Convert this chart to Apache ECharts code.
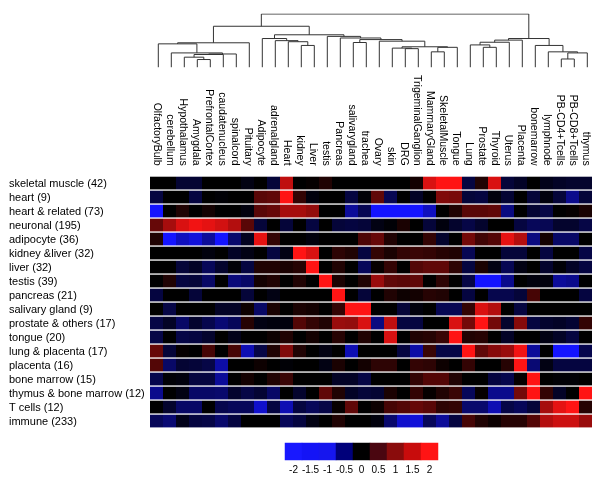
<!DOCTYPE html>
<html><head><meta charset="utf-8">
<script src="https://cdn.jsdelivr.net/npm/echarts@6/dist/echarts.min.js"></script>
<style>html,body{margin:0;padding:0;background:#fff}#c{width:600px;height:478px}</style>
</head><body><div id="c"></div>
<script>
// ---- categories ----
const tissues = ['OlfactoryBulb','cerebellum','Hypothalamus','Amygdala','PrefrontalCortex','caudatenucleus','spinalcord','Pituitary','Adipocyte','adrenalgland','Heart','kidney','Liver','testis','Pancreas','salivarygland','trachea','Ovary','skin','DRG','TrigeminalGanglion','MammaryGland','SkeletalMuscle','Tongue','Lung','Prostate','Thyroid','Uterus','Placenta','bonemarrow','lymphnode','PB-CD4+Tcells','PB-CD8+Tcells','thymus'];
const clusters = ['skeletal muscle (42)','heart (9)','heart & related (73)','neuronal (195)','adipocyte (36)','kidney &liver (32)','liver (32)','testis (39)','pancreas (21)','salivary gland (9)','prostate & others (17)','tongue (20)','lung & placenta (17)','placenta (16)','bone marrow (15)','thymus & bone marrow (12)','T cells (12)','immune (233)'];

// ---- z-score values (one row per cluster, one value per tissue) ----
const zScores = [
 [0,0,-0.4,-0.4,0,0,0,-0.15,0,-0.45, 1.5,0,0.05,0.25,0,0,0,0,0,0, 0.15,1.7,2,2,-0.5,0.25,1.7,-0.45,-0.3,0, -0.2,-0.3,-0.35,-0.35],
 [-0.5,0,0,-0.5,0,-0.05,0,0,0.7,0.75, 2,0.4,-0.1,0,0,-0.5,-0.05,0.75,-0.65,0, -0.3,0,1.0,0.95,-0.45,-0.5,-0.1,-0.4,0,-0.45, -0.1,-0.45,-1.1,-0.45],
 [-2,0,0.25,0,0.15,0,0,-0.1,0.7,0.8, 1.3,1.3,1.15,0,0,-1.2,-0.65,-2,-2,-2, -2,-1.5,0,0.25,0.7,0.7,0.75,-1.0,0,-0.4, -0.55,0,0.05,0.2],
 [0.8,1.3,1.7,1.9,1.8,1.65,1.4,0.7,-0.45,0, -0.45,0,-0.5,0,-0.45,-0.5,-0.45,-0.15,-0.05,0.2, 0,-0.45,-0.1,-0.35,-0.55,-0.35,0,0,-0.5,-0.7, -0.65,-0.35,-0.35,-0.55],
 [0.25,-2,-1.5,-1.7,-1.2,-2,-0.85,-0.25,1.8,0.4, 0,0,-0.1,0,0,0,0.6,0.8,0.25,0, 0,0.4,-0.35,0,0.9,0.5,0.65,1.8,1.4,-1.0, 0.15,-0.8,-0.8,0],
 [0,0,0,0,-0.1,0,-0.3,-0.15,0,-0.5, -0.15,2,1.7,0,0.35,0.25,-0.5,0.4,0.2,0.4, 0.45,0.4,0.3,0.25,-0.65,0,0,-0.45,-0.45,0, -0.5,0,0,-0.55],
 [0,0,-0.45,-0.3,-0.7,-0.35,-0.05,-0.5,0.25,0.25, 0.2,0.3,2,0,0.25,0,-0.7,0.05,0.4,0, 0.65,0.75,0.75,0.35,-0.5,0.2,-0.15,-0.65,-0.15,0, -0.35,-0.05,-0.3,-0.5],
 [0,0.25,-0.5,-0.45,-0.8,0,-0.95,-0.8,0.15,0.25, 0,0.25,0,2,0.2,0,0.25,1.2,0.75,0.7, 0.75,0,0.35,0,-0.55,-2,-2,-1.1,0,-0.1, -0.1,-1.2,-1.1,0],
 [-0.5,0,0,-0.45,0,0,0,-0.45,0,-0.15, 0,0,0,0,2,0,-0.45,0,0.25,0.1, 0.15,0.3,0.25,0,-0.5,0,-0.6,-0.6,-0.45,0.55, 0,0,0,-0.5],
 [0,-0.55,0,0,0,-0.3,-0.3,0.1,-0.8,0.2, 0,0.2,0.15,0,0.4,2,2,0,0,-0.45, -0.1,0,-0.65,-0.65,0.4,1.7,1.4,0,-0.5,0, 0,0,0,0],
 [-0.55,-0.3,-0.8,-0.35,-0.6,-0.9,-0.7,0.3,-0.15,-0.1, -0.1,0.65,0.4,0.25,1.2,1.15,1.7,-1.0,1.5,-0.5, -0.5,0,0,1.7,0.9,2,0.9,-0.35,1.05,-0.5, -0.35,-0.3,-0.4,0.4],
 [-0.55,0,-0.55,-0.5,-0.35,0,-0.2,0,0,0.1, 0.25,0,0.15,0,0.3,0,0.25,0,1.7,0, 0.25,0.3,0.45,2,0.25,0.3,0,-0.3,0,0, -0.15,-0.3,-0.5,0],
 [0.8,-0.45,0.05,0,0.55,0,0.55,-1.4,-0.55,0.25, 1.0,0.25,0,-0.15,0,-1.4,0,0,0,-0.5, -1.3,0.45,-0.55,-0.55,2,0.75,1.05,1.2,1.9,-1.2, 0,-2,-2,-0.6],
 [0.65,-0.8,-0.4,-0.45,-0.55,-1.3,0,0,0.1,0, -0.05,0,0,-0.15,0.2,0,0.15,0.35,0.35,0, 0.4,0.35,0.1,0,0.4,0,0,0.3,2,-0.9, -0.15,-0.5,-0.5,-0.5],
 [-0.6,-0.05,-0.1,-0.5,-0.5,-1.2,0,0.15,0,0.25, 0.45,0,0,0,-0.3,-0.3,-0.55,0,0,0, 0.4,0.65,0.65,0.25,0,0,-0.5,-0.6,0.05,2, 0,-0.05,-0.05,0],
 [-1.1,0,-0.15,-0.8,-0.8,-0.85,-0.35,-0.55,-0.4,-0.8, 0,-0.35,0,0.75,0.25,-0.3,-0.45,-0.4,0.2,0, 0.4,0.05,0.25,0.45,-0.7,0.05,-1.1,-1.1,0.9,2, 0.4,-0.3,0,2],
 [0,-0.35,-0.8,-0.8,0,-0.6,-0.7,-0.7,-1.6,-0.5, -1.4,-0.5,-0.7,-0.55,0.05,0.75,0,0.1,0.55,0.65, 0.8,0.7,0.35,0.4,-0.85,-0.85,-1.4,-0.55,-0.7,-0.45, 1.3,1.8,2,0.3],
 [-0.7,-0.9,-0.2,-0.5,-0.55,-0.85,-0.5,0,0,0, -0.7,-0.5,-0.15,0,0.25,0,0,-0.1,-0.85,-1.6, -1.7,-0.7,-1.2,-0.5,0.55,0.25,0.1,0.3,0.3,0.65, 1.4,1.6,1.6,1.2]
];

// ---- dendrogram (R-style merge table: negative = leaf number, positive = earlier merge) ----
const mergeLeft  = [-4, -3, 2, 3, -2, -1, 6, -12, -11, -10, -9, -22, 12, -20, -19, 15, -18, -16, 18, -15, -14, 11, 7, -26, -25, 25, 26, -32, 28, -31, -30, 27, 23];
const mergeRight = [-5, 1, -6, -7, 4, 5, -8, -13, 8, 9, 10, -23, -24, -21, 14, 13, 16, -17, 17, 19, 20, 21, 22, -27, 24, -28, -29, -33, -34, 29, 30, 31, 32];
const mergeHeight = [0.146, 0.19, 0.24, 0.25, 0.27, 0.44, 0.46, 0.41, 0.48, 0.50, 0.54, 0.29, 0.375, 0.35, 0.36, 0.385, 0.49, 0.465, 0.52, 0.55, 0.58, 0.61, 0.77, 0.375, 0.42, 0.47, 0.51, 0.156, 0.27, 0.29, 0.41, 0.54, 1.0];

// ---- colour key ----
const keyTicks = ['-2','-1.5','-1','-0.5','0','0.5','1','1.5','2'];
const keyValues = [-2, -1.5, -1, -0.5, 0, 0.5, 1, 1.5, 2];
const keyColors = ['#1818ff','#1414f6','#1616ee','#00007a','#000000','#4a0610','#8a0c0c','#c80c0c','#ff1414'];

const FONT = '"Liberation Sans", Arial, Helvetica, sans-serif';

// build cells
const cells = [];
zScores.forEach((row, r) => row.forEach((v, c) => cells.push([c, r, v])));

// build dendrogram segments
const nodeX = [], nodeH = [];
function pos(ref) {
  if (ref < 0) return [(-ref) - 0.5, 0];
  return [nodeX[ref - 1], nodeH[ref - 1]];
}
const segs = [];
for (let i = 0; i < mergeLeft.length; i++) {
  const a = pos(mergeLeft[i]), b = pos(mergeRight[i]), h = mergeHeight[i];
  nodeX.push((a[0] + b[0]) / 2); nodeH.push(h);
  segs.push({coords: [[a[0], a[1]], [a[0], h], [b[0], h], [b[0], b[1]]]});
}

function renderCell(params, api) {
  const p = api.coord([api.value(0), api.value(1)]);
  const s = api.size([1, 1]);
  const x0 = Math.round(p[0] - s[0] / 2), x1 = Math.round(p[0] + s[0] / 2);
  const y0 = p[1] - s[1] / 2;
  return {type: 'rect', shape: {x: x0, y: y0, width: x1 - x0, height: s[1] - 1.3},
          style: {fill: api.visual('color')}};
}

const chart = echarts.init(document.getElementById('c'), null, {renderer: 'canvas'});
chart.setOption({
  animation: false,
  backgroundColor: '#fff',
  textStyle: {fontFamily: FONT},
  grid: [
    {left: 150, top: 176.7, width: 442, height: 252},
    {left: 151.8, top: 14, width: 442, height: 53.3},
    {left: 285, top: 443, width: 153, height: 17}
  ],
  xAxis: [
    {type: 'category', gridIndex: 0, data: tissues, position: 'top',
     axisLine: {show: false}, axisTick: {show: false}, splitLine: {show: false},
     axisLabel: {rotate: 90, interval: 0, margin: 11, fontSize: 10.5, color: '#000', fontFamily: FONT}},
    {type: 'value', gridIndex: 1, min: 0, max: 34, show: false},
    {type: 'category', gridIndex: 2, data: keyTicks,
     axisLine: {show: false}, axisTick: {show: false},
     axisLabel: {margin: 5, fontSize: 10, color: '#000', interval: 0, fontFamily: FONT}}
  ],
  yAxis: [
    {type: 'category', gridIndex: 0, data: clusters, inverse: true,
     axisLine: {show: false}, axisTick: {show: false}, splitLine: {show: false},
     axisLabel: {align: 'left', margin: 141, fontSize: 11, color: '#000', interval: 0, fontFamily: FONT}},
    {type: 'value', gridIndex: 1, min: 0, max: 1, show: false},
    {type: 'category', gridIndex: 2, data: [''], show: false}
  ],
  visualMap: [
    {type: 'continuous', show: false, seriesIndex: 0, dimension: 2, min: -2, max: 2,
     inRange: {color: ['#1414ff', '#000000', '#ff1414']}},
    {type: 'piecewise', show: false, seriesIndex: 2, dimension: 2,
     pieces: keyValues.map((v, i) => ({value: v, color: keyColors[i]}))}
  ],
  series: [
    {type: 'custom', xAxisIndex: 0, yAxisIndex: 0, renderItem: renderCell,
     data: cells, encode: {x: 0, y: 1}, dimensions: ['x', 'y', 'z']},
    {type: 'lines', coordinateSystem: 'cartesian2d', xAxisIndex: 1, yAxisIndex: 1,
     polyline: true, silent: true, data: segs,
     lineStyle: {color: '#333', width: 1, opacity: 1}},
    {type: 'heatmap', xAxisIndex: 2, yAxisIndex: 2,
     data: keyValues.map((v, i) => [i, 0, v])}
  ]
});
</script></body></html>
